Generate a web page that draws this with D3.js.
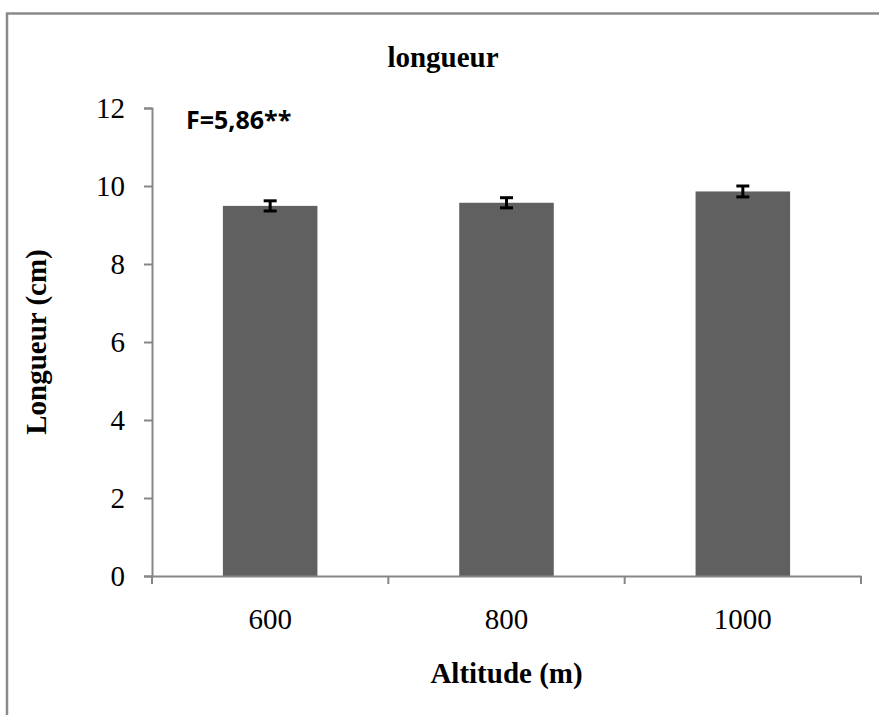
<!DOCTYPE html>
<html><head><meta charset="utf-8">
<script src="https://cdn.jsdelivr.net/npm/d3@7"></script>
<style>body{margin:0;background:#fff}svg{display:block}</style>
</head><body>
<script>
const categories = ["600", "800", "1000"];
const values = [9.49, 9.57, 9.86];
const errors = [0.13, 0.13, 0.14];
const yTicks = [0, 2, 4, 6, 8, 10, 12];
const title = "longueur";
const annotation = "F=5,86**";
const xTitle = "Altitude (m)";
const yTitle = "Longueur (cm)";

const W = 879, H = 715;
const m = {left: 152, right: 18, top: 108, bottom: 139};
const svg = d3.select("body").append("svg").attr("width", W).attr("height", H);

svg.append("path").attr("d", `M7,${H+5}V13.5H${W+5}`).attr("fill", "none")
  .attr("stroke", "#8a8a8a").attr("stroke-width", 2.5);

const x = d3.scaleBand().domain(categories).range([m.left, W - m.right]).paddingInner(0.6).paddingOuter(0.3);
const y = d3.scaleLinear().domain([0, 12]).range([H - m.bottom, m.top]);
const axisColor = "#868686";
const serif = "'Liberation Serif','Times New Roman',serif";
const fs = 29;

// bars
svg.selectAll("rect.bar").data(values).join("rect").attr("class", "bar")
  .attr("x", (d, i) => x(categories[i])).attr("width", x.bandwidth())
  .attr("y", d => y(d)).attr("height", d => y(0) - y(d)).attr("fill", "#606060");

// error bars
const eb = svg.append("g").attr("stroke", "#000").attr("stroke-width", 3);
values.forEach((v, i) => {
  const cx = x(categories[i]) + x.bandwidth() / 2;
  eb.append("line").attr("x1", cx).attr("x2", cx).attr("y1", y(v + errors[i])).attr("y2", y(v - errors[i]));
  eb.append("line").attr("x1", cx - 6.5).attr("x2", cx + 6.5).attr("y1", y(v + errors[i])).attr("y2", y(v + errors[i]));
  eb.append("line").attr("x1", cx - 6.5).attr("x2", cx + 6.5).attr("y1", y(v - errors[i])).attr("y2", y(v - errors[i]));
});

// y axis
const ya = svg.append("g").attr("transform", `translate(${m.left},0)`)
  .call(d3.axisLeft(y).tickValues(yTicks).tickSize(8).tickPadding(19).tickFormat(d3.format("d")));
ya.select(".domain").attr("stroke", axisColor).attr("stroke-width", 2);
ya.selectAll(".tick line").attr("stroke", axisColor).attr("stroke-width", 2);
ya.selectAll(".tick text").attr("font-family", serif).attr("font-size", fs).attr("fill", "#000");

// x axis
const xa = svg.append("g").attr("transform", `translate(0,${y(0)})`)
  .call(d3.axisBottom(x).tickSize(0));
xa.select(".domain").attr("stroke", axisColor).attr("stroke-width", 2);
xa.selectAll(".tick text").attr("font-family", serif).attr("font-size", fs).attr("fill", "#000")
  .attr("y", 53).attr("dy", 0);
// boundary ticks
const bounds = d3.range(categories.length + 1).map(i => m.left + i * (W - m.right - m.left) / categories.length);
xa.selectAll("line.bt").data(bounds).join("line").attr("class", "bt")
  .attr("x1", d => d).attr("x2", d => d).attr("y1", 0).attr("y2", 8)
  .attr("stroke", axisColor).attr("stroke-width", 2);

// titles
svg.append("text").attr("x", 443).attr("y", 67).attr("text-anchor", "middle")
  .attr("font-family", serif).attr("font-weight", "bold").attr("font-size", fs).text(title);
svg.append("text").attr("x", 186).attr("y", 129)
  .attr("font-family", "'Open Sans','Liberation Sans',sans-serif").attr("font-weight", "bold").attr("font-size", 25).text(annotation);
svg.append("text").attr("x", (m.left + W - m.right) / 2).attr("y", 683).attr("text-anchor", "middle")
  .attr("font-family", serif).attr("font-weight", "bold").attr("font-size", fs).text(xTitle);
svg.append("text").attr("transform", `translate(46,${(y(0) + y(12)) / 2}) rotate(-90)`).attr("text-anchor", "middle")
  .attr("font-family", serif).attr("font-weight", "bold").attr("font-size", fs).text(yTitle);
</script>
</body></html>
